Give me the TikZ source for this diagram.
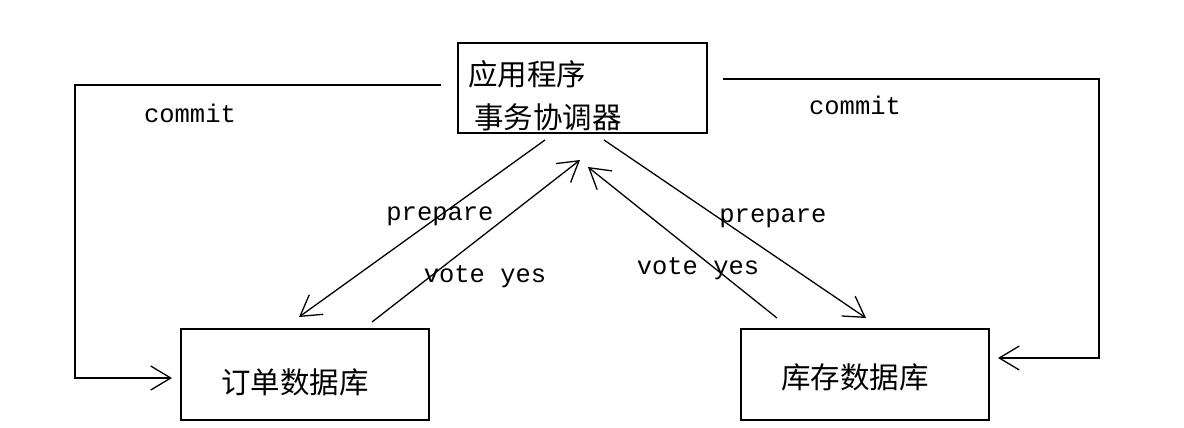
\documentclass[tikz,border=0pt]{standalone}
\usepackage{fontspec}
\setmainfont{Noto Sans CJK SC}
\newfontfamily\cjk{Noto Sans CJK SC}
\newfontfamily\monof{Liberation Mono}
\usetikzlibrary{arrows.meta}
\begin{document}
\begin{tikzpicture}[x=1pt,y=-1pt,
  box/.style={draw,line width=1.5pt,inner sep=0pt},
  conn/.style={line width=1.3pt},
  arr/.style={conn,-{Straight Barb[length=20pt,width=24pt,line width=1.3pt]}},
  lbl/.style={font=\monof\fontsize{25.5}{25.5}\selectfont,inner sep=0pt},
  cjkt/.style={font=\cjk\fontsize{29.5}{29.5}\selectfont,inner sep=0pt}]
\useasboundingbox (0,0) rectangle (1184,428);
% boxes
\node[box,minimum width=249pt,minimum height=90pt] (top) at (582.5,88) {};
\node[cjkt,anchor=west] (t1) at (468,74) {应用程序};
\node[cjkt,anchor=west] (t2) at (474,117) {事务协调器};
\node[box,minimum width=248pt,minimum height=91pt] (order) at (305,374.5) {};
\node[cjkt] (ot) at (295,382) {订单数据库};
\node[box,minimum width=248pt,minimum height=91pt] (stock) at (865,374.5) {};
\node[cjkt] (st) at (855,377) {库存数据库};
% coordinates
\coordinate (lc0) at (441,85);
\coordinate (lc1) at (75,85);
\coordinate (lc2) at (75,378);
\coordinate (lcE) at (172,378);
\coordinate (rc0) at (723,79);
\coordinate (rc1) at (1099,79);
\coordinate (rc2) at (1099,358);
\coordinate (rcE) at (998,358);
\coordinate (lp0) at (545,140);
\coordinate (lpE) at (299,317);
\coordinate (lv0) at (372,322);
\coordinate (lvE) at (580,160);
\coordinate (rv0) at (777,318);
\coordinate (rvE) at (588,167);
\coordinate (rp0) at (604,140);
\coordinate (rpE) at (866,318);
% connectors
\draw[arr] (lc0) -- (lc1) -- (lc2) -- (lcE);
\draw[arr] (rc0) -- (rc1) -- (rc2) -- (rcE);
\draw[arr] (lp0) -- (lpE);
\draw[arr] (lv0) -- (lvE);
\draw[arr] (rv0) -- (rvE);
\draw[arr] (rp0) -- (rpE);
% labels
\node[lbl] (c1) at (190,113) {commit};
\node[lbl] (c2) at (855,105) {commit};
\node[lbl] (p1) at (440,216) {prepare};
\node[lbl] (v1) at (485,277) {vote yes};
\node[lbl] (p2) at (773,218) {prepare};
\node[lbl] (v2) at (698,269) {vote yes};
\end{tikzpicture}
\end{document}
